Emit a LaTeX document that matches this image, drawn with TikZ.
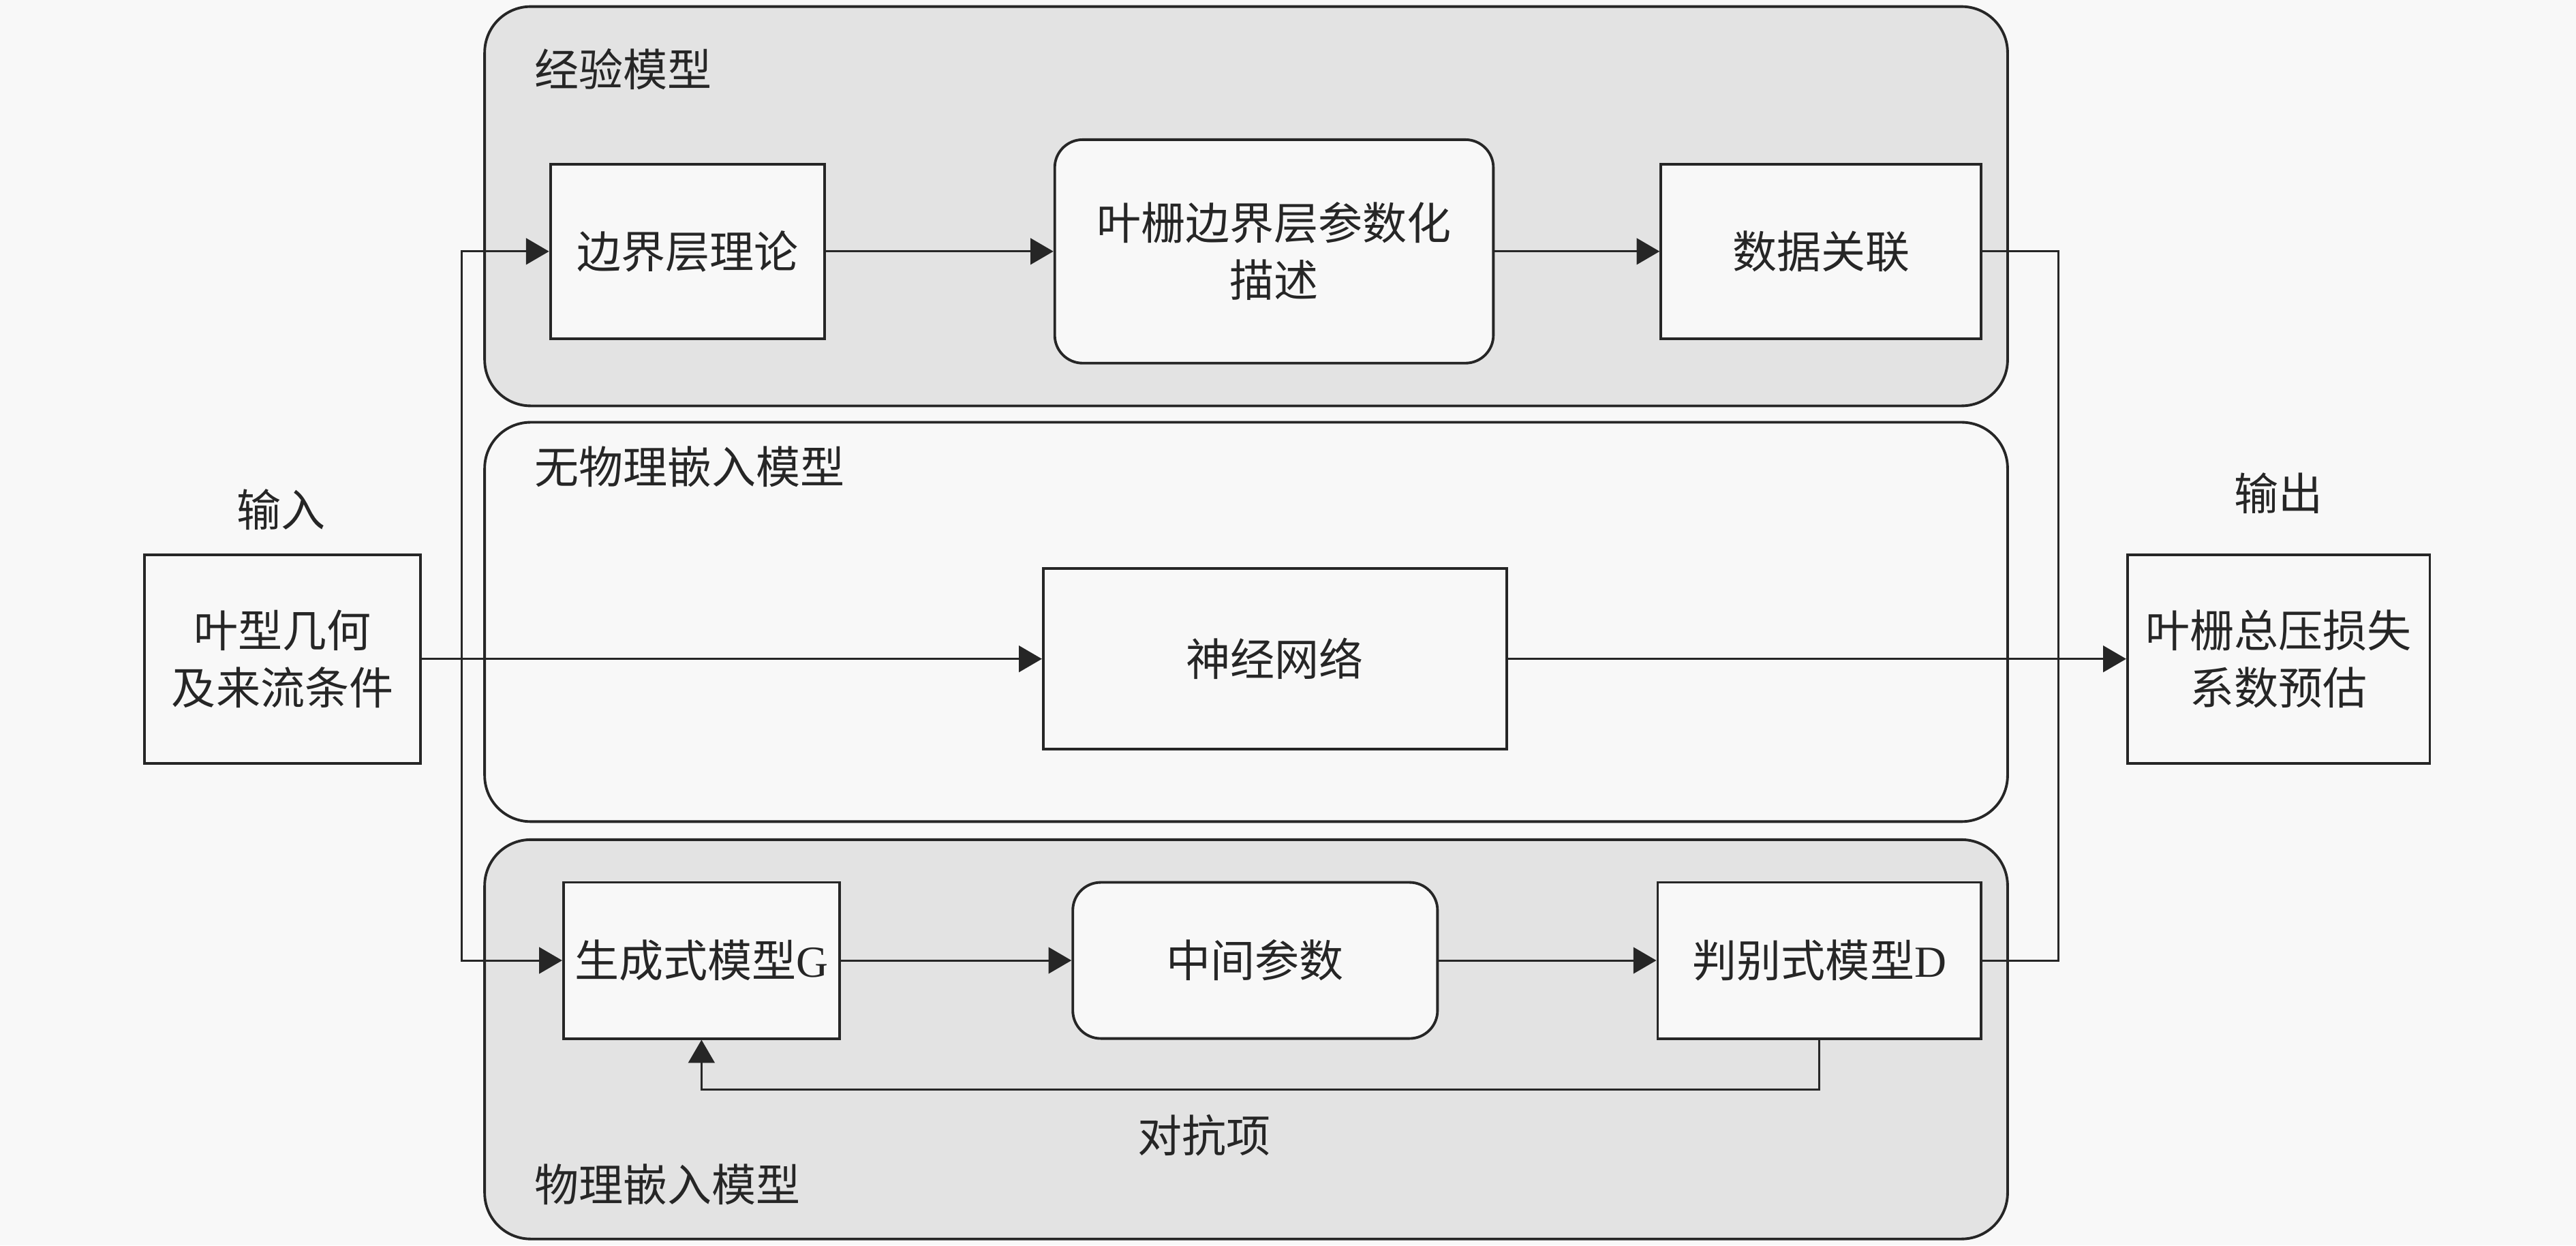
\documentclass[tikz,border=0pt]{standalone}
\usepackage{fontspec}
\setmainfont{Liberation Serif}
\newfontfamily\cjk{Noto Sans CJK SC}
\usetikzlibrary{arrows.meta}
\definecolor{bgc}{HTML}{F8F8F8}
\definecolor{grp}{HTML}{E3E3E3}
\definecolor{ink}{HTML}{262626}
\tikzset{
  every node/.style={font=\cjk\fontsize{13.5}{17.5}\selectfont, text=ink},
  group/.style={draw=ink, line width=0.8pt, rounded corners=14pt, inner sep=0pt},
  grpgray/.style={group, fill=grp},
  grpwhite/.style={group, fill=bgc},
  blk/.style={draw=ink, line width=0.8pt, fill=bgc, inner sep=0pt, align=center},
  rblk/.style={blk, rounded corners=8.5pt},
  lbl/.style={inner sep=0pt},
  conn/.style={draw=ink, line width=0.6pt},
  arr/.style={conn, -{Triangle[length=7pt,width=8pt]}},
}
\begin{document}
\begin{tikzpicture}[x=0.5pt, y=-0.5pt]
\fill[bgc] (0,0) rectangle (1568,758);
\useasboundingbox (0,0) rectangle (1568,758);

% group boxes
\node[grpgray, minimum width=463.5pt, minimum height=121.5pt] (emp) at (758.5,125.5) {};
\node[grpwhite, minimum width=463.5pt, minimum height=121.5pt] (nophys) at (758.5,378.5) {};
\node[grpgray, minimum width=463.5pt, minimum height=121.5pt] (phys) at (758.5,632.5) {};

\node[lbl, anchor=west] (emplbl) at (325,42) {经验模型};
\node[lbl, anchor=west] (nophyslbl) at (325,284) {无物理嵌入模型};
\node[lbl, anchor=west] (physlbl) at (325,721) {物理嵌入模型};

% blocks
\node[blk, minimum width=83.5pt, minimum height=53pt] (blt) at (418.5,153) {边界层理论};
\node[rblk, minimum width=133.5pt, minimum height=68pt] (param) at (775.5,153) {叶栅边界层参数化\\描述};
\node[blk, minimum width=97.5pt, minimum height=53pt] (data) at (1108.5,153) {数据关联};

\node[blk, minimum width=141pt, minimum height=55pt] (nn) at (776,401) {神经网络};

\node[blk, minimum width=84pt, minimum height=47.5pt] (gen) at (427,584.5) {生成式模型{\rmfamily G}};
\node[rblk, minimum width=111pt, minimum height=47.5pt] (mid) at (764,584.5) {中间参数};
\node[blk, minimum width=98.5pt, minimum height=47.5pt] (disc) at (1107.5,584.5) {判别式模型{\rmfamily D}};

\node[blk, minimum width=84pt, minimum height=63.5pt] (input) at (172,401) {叶型几何\\及来流条件};
\node[blk, minimum width=92pt, minimum height=63.5pt] (output) at (1387,401) {叶栅总压损失\\系数预估};

\node[lbl] (inlbl) at (171,310) {输入};
\node[lbl] (outlbl) at (1387,300) {输出};
\node[lbl] (advlbl) at (733,691) {对抗项};

% junctions
\coordinate (jl) at (281,401);
\coordinate (jr) at (1253,401);
\coordinate (fb) at (0,663);

% connectors
\draw[arr] (input.east) -- (nn.west);
\draw[arr] (jl) |- (blt.west);
\draw[arr] (jl) |- (gen.west);
\draw[arr] (blt.east) -- (param.west);
\draw[arr] (param.east) -- (data.west);
\draw[arr] (gen.east) -- (mid.west);
\draw[arr] (mid.east) -- (disc.west);
\draw[arr] (nn.east) -- (output.west);
\draw[conn] (data.east) -| (jr);
\draw[conn] (disc.east) -| (jr);
\draw[arr] (disc.south) -- (disc.south |- fb) -| (gen.south);
\end{tikzpicture}
\end{document}
